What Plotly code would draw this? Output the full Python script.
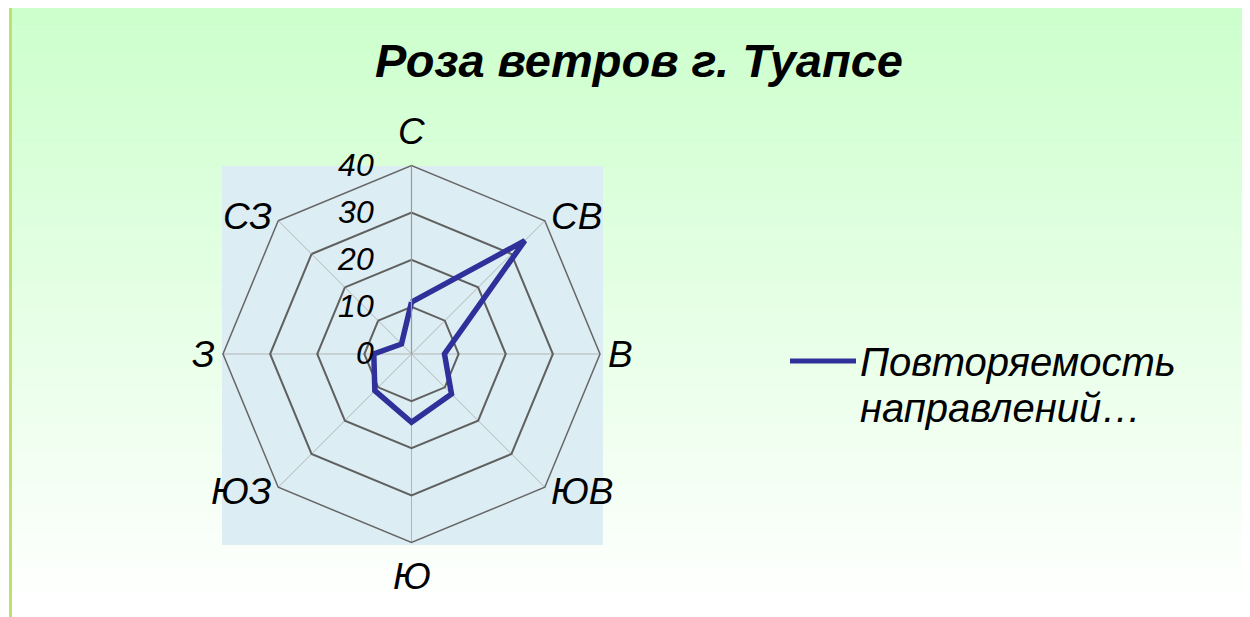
import math
import plotly.graph_objects as go

# the page body adds 8px around the figure, so the figure is 8px smaller
# and all reference pixel positions are shifted by that amount
OFF = 8
W, H = 1250 - OFF, 617 - OFF

# wind rose data: repeatability of directions, %
directions = ["С", "СВ", "В", "ЮВ", "Ю", "ЮЗ", "З", "СЗ"]
repeat_pct = [11, 34, 7, 12, 14.5, 11, 8, 3]
radial_ticks = [0, 10, 20, 30, 40]

title_text = "Роза ветров г. Туапсе"
series_lines = ["Повторяемость", "направлений…"]

FONT = "Liberation Sans, Arial, sans-serif"
LINE_BLUE = "#30309a"
R_MAX = 40

# polar area in page pixels
CX, CY, R_PX = 411.5, 354, 188.5


def px_x(x):
    return (x - OFF) / W


def px_y(y):
    return 1 - (y - OFF) / H


def gradient_shapes(top=6, bottom=612, steps=120):
    # chart-area fill: pale green at top fading to white
    shapes = []
    c0, c1 = (204, 255, 204), (255, 255, 255)
    h = (bottom - top) / steps
    for i in range(steps):
        t = i / (steps - 1)
        col = tuple(round(a + (b - a) * t) for a, b in zip(c0, c1))
        shapes.append(dict(
            type="rect", xref="paper", yref="paper", layer="below",
            x0=px_x(12), x1=px_x(1248),
            y0=px_y(top + (i + 1) * h + 0.5), y1=px_y(top + i * h),
            fillcolor="rgb(%d,%d,%d)" % col, line=dict(width=0),
        ))
    return shapes


def direction_labels():
    # Excel style: N/S centred above/below the octagon, the rest beside it
    out = []
    n = len(directions)
    for i, d in enumerate(directions):
        ang = math.radians(90 - 360 * i / n)
        if d in ("С", "Ю"):
            r, xa = R_PX + 34, "center"
        else:
            r, xa = R_PX + 6, ("left" if "В" in d else "right")
        out.append(dict(
            text=d, xref="paper", yref="paper", showarrow=False,
            x=px_x(CX + r * math.cos(ang)), y=px_y(CY - r * math.sin(ang)),
            xanchor=xa, yanchor="middle",
            font=dict(size=37, style="italic", color="#000000"),
        ))
    return out


shapes = gradient_shapes()
# left border of the chart area
shapes.append(dict(type="line", xref="paper", yref="paper", layer="below",
                   x0=px_x(10.5), x1=px_x(10.5), y0=0, y1=px_y(6),
                   line=dict(color="#bde26a", width=3)))
# plot area
shapes.append(dict(type="rect", xref="paper", yref="paper", layer="below",
                   x0=px_x(222), x1=px_x(603), y0=px_y(545), y1=px_y(166),
                   fillcolor="#dcedf3", line=dict(width=0)))
# manual legend key
shapes.append(dict(type="line", xref="paper", yref="paper",
                   x0=px_x(790), x1=px_x(856), y0=px_y(361), y1=px_y(361),
                   line=dict(color=LINE_BLUE, width=5)))

legend_text = [
    dict(text=line, xref="paper", yref="paper",
         x=px_x(858), y=px_y(362 + 46 * i), xanchor="left", yanchor="middle",
         showarrow=False,
         font=dict(size=40, style="italic", color="#000000"))
    for i, line in enumerate(series_lines)
]

fig = go.Figure()
fig.add_trace(go.Scatterpolar(
    r=repeat_pct + repeat_pct[:1],
    theta=directions + directions[:1],
    mode="lines",
    name=" ".join(series_lines),
    line=dict(color=LINE_BLUE, width=5.5),
    showlegend=False,
))

fig.update_layout(
    width=W, height=H,
    margin=dict(l=0, r=0, t=0, b=0),
    paper_bgcolor="white",
    font=dict(family=FONT, color="#000000"),
    title=dict(
        text=title_text, x=px_x(639), y=px_y(61),
        xanchor="center", yanchor="middle",
        font=dict(size=47, weight="bold", style="italic", color="#000000"),
    ),
    shapes=shapes,
    annotations=legend_text + direction_labels(),
    polar=dict(
        domain=dict(x=[px_x(CX - R_PX), px_x(CX + R_PX)],
                    y=[px_y(CY + R_PX), px_y(CY - R_PX)]),
        gridshape="linear",
        bgcolor="rgba(0,0,0,0)",
        angularaxis=dict(
            rotation=90, direction="clockwise",
            categoryorder="array", categoryarray=directions,
            showline=True, linecolor="#666666", linewidth=1.5,
            gridcolor="#b4b4b4", gridwidth=1,
            ticks="", showticklabels=False,
        ),
        radialaxis=dict(
            range=[0, R_MAX], tickvals=radial_ticks, angle=90, tickangle=90,
            side="counterclockwise", ticks="outside", ticklen=26,
            tickcolor="rgba(0,0,0,0)",
            showline=True, linecolor="#999999", linewidth=1.2,
            gridcolor="#606060", gridwidth=1.5,
            tickfont=dict(size=32, style="italic"),
        ),
    ),
)

fig.write_html("out.html")
